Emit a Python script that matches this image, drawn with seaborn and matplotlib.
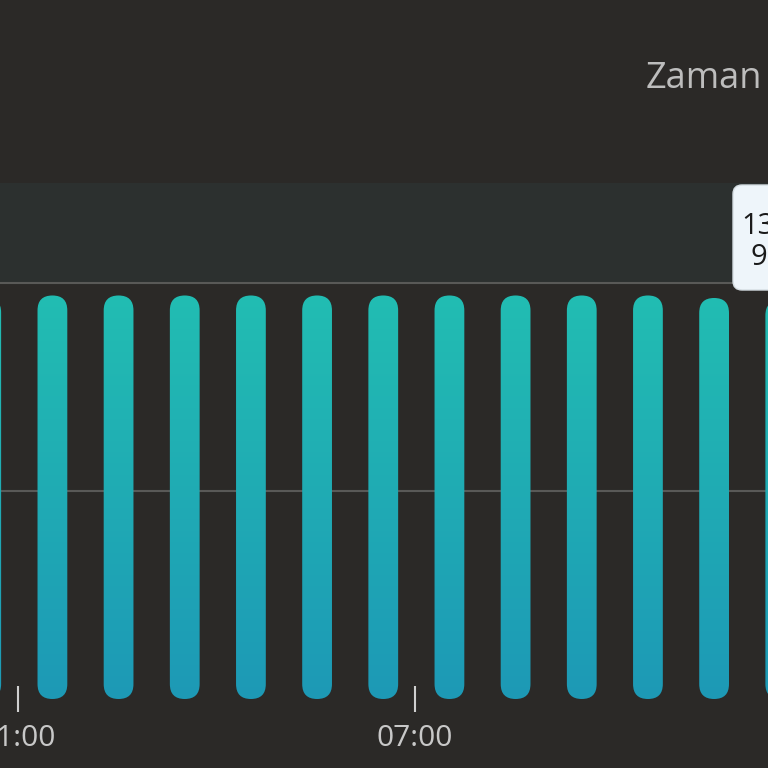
import numpy as np
import pandas as pd
import matplotlib
matplotlib.use("Agg")
import matplotlib.pyplot as plt
import matplotlib.patches as mpatches
from matplotlib.path import Path
from matplotlib.colors import LinearSegmentedColormap
from matplotlib.transforms import IdentityTransform
import seaborn as sns

# ---- data ----
hour_start = [0, 1, 2, 3, 4, 5, 6, 7, 8, 9, 10, 11, 12]
values = [96.5, 97, 97, 97, 97, 97, 97, 97, 97, 97, 97, 96.4, 95.8]
tick_hours = [1, 7]
tick_labels = ["01:00", "07:00"]
grid_values = [50, 100]
axis_title = "Zaman"
tooltip_lines = ["13:00", "96%"]

BG = "#2b2927"
BAND = "#2c302f"
GRID = "#595957"
TXT = "#c8c8c8"

sns.set_theme(style="dark")
plt.rcParams["font.family"] = ["Open Sans", "DejaVu Sans"]

W = H = 768
fig = plt.figure(figsize=(7.68, 7.68), dpi=100, facecolor=BG)

y0_px, ytop_px = 699, 183          # pixel rows (from top) of value 0 and of axes top
px_per_50 = 208.0
ymax = (y0_px - ytop_px) / px_per_50 * 50
ax = fig.add_axes([0, (H - y0_px) / H, 1, (y0_px - ytop_px) / H])
ax.set_facecolor("none")

df = pd.DataFrame({"hour": [h + 0.52 for h in hour_start], "value": values})
sns.barplot(data=df, x="hour", y="value", native_scale=True, width=0.45,
            color="#22b3b2", ax=ax)
bar_patches = list(ax.patches)

px_per_hour = 66.17
x_left = 1 - 18 / px_per_hour
x_right = 1 + (W - 18) / px_per_hour
ax.set_xlim(x_left, x_right)
ax.set_ylim(0, ymax)

# gradient rounded bars: one gradient image clipped to the union of rounded bars
cmap = LinearSegmentedColormap.from_list("bar", ["#1d99b6", "#22bdb2"])
xpp = (x_right - x_left) / ax.bbox.width
ypp = ymax / ax.bbox.height
aspect = ypp / xpp
paths = []
for p in bar_patches:
    x, w, h = p.get_x(), p.get_width(), p.get_height()
    p.set_visible(False)
    shape = mpatches.FancyBboxPatch((x, 0), w, h,
                                    boxstyle=f"round,pad=0,rounding_size={w/2}",
                                    mutation_aspect=aspect)
    paths.append(shape.get_path())
compound = Path.make_compound_path(*paths)
clip = mpatches.PathPatch(compound, facecolor="none", edgecolor="none",
                          transform=ax.transData, zorder=3)
ax.add_patch(clip)
top = max(values)
grad = np.linspace(0, 1, 256).reshape(-1, 1)
im = ax.imshow(grad, extent=(x_left - 1, x_right + 1, 0, top), origin="lower",
               aspect="auto", cmap=cmap, zorder=3, interpolation="bilinear")
im.set_clip_path(clip)

# band above top gridline
ax.axhspan(100, ymax, color=BAND, zorder=0, lw=0)

ax.set_xlim(x_left, x_right)
ax.set_ylim(0, ymax)

# grid
ax.set_yticks(grid_values)
ax.yaxis.grid(True, color=GRID, lw=1.5)
ax.xaxis.grid(False)
ax.tick_params(axis="y", length=0, left=False, labelleft=False)
ax.set_xticks(tick_hours)
ax.set_xticklabels(tick_labels)
ax.tick_params(axis="x", bottom=True, direction="inout", length=18.7, width=1.5,
               color="#cfcfcf", labelcolor=TXT, labelsize=21.5, pad=9)
ax.set_xlabel("")
ax.set_ylabel("")
for s in ax.spines.values():
    s.set_visible(False)

# axis title at top right
fig.text(762 / W, 1 - 88 / H, axis_title, ha="right", va="baseline",
         fontsize=26, color="#bdbdbd")

# tooltip (cropped at right edge)
tip = mpatches.FancyBboxPatch((733, H - 290), 100, 105,
                              boxstyle="round,pad=0,rounding_size=9",
                              facecolor="#eef5fa", edgecolor="#d5dde2", lw=1,
                              transform=IdentityTransform(), zorder=10)
fig.add_artist(tip)
fig.text(779 / W, 1 - 226 / H, tooltip_lines[0], ha="center", va="center",
         fontsize=21, color="#1a1a1a", zorder=11)
fig.text(779 / W, 1 - 257 / H, tooltip_lines[1], ha="center", va="center",
         fontsize=21, color="#1a1a1a", zorder=11)

fig.savefig("out.png", dpi=100, facecolor=BG)
